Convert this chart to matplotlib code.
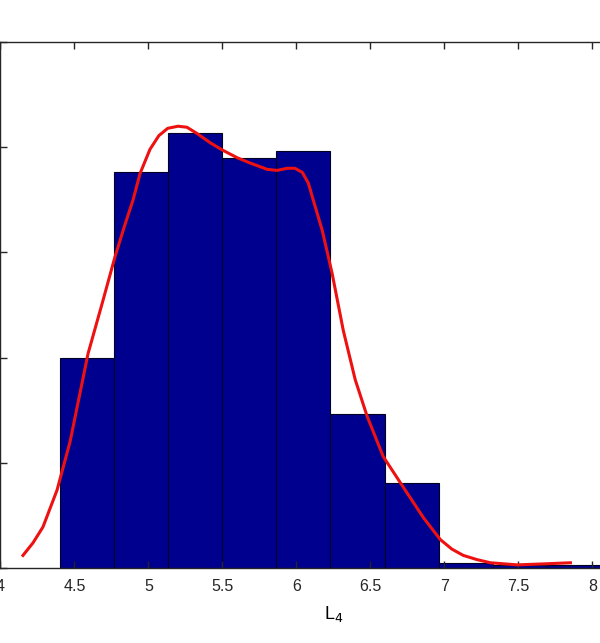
import numpy as np
import matplotlib.pyplot as plt

plt.rcParams['font.family'] = ['Liberation Sans', 'DejaVu Sans']

# histogram: left bin edge, bin width and bar heights
bin_start = 4.402
bin_width = 0.3655
bar_heights = [0.200, 0.376, 0.414, 0.390, 0.396, 0.146, 0.081, 0.005, 0.003, 0.003]

# fitted density curve
curve_x = [4.152, 4.220, 4.287, 4.382, 4.470, 4.592, 4.690, 4.774, 4.840, 4.896,
           4.943, 5.010, 5.070, 5.130, 5.200, 5.260, 5.329, 5.420, 5.504, 5.600,
           5.687, 5.802, 5.870, 5.937, 5.990, 6.040, 6.080, 6.113, 6.174, 6.241,
           6.316, 6.397, 6.478, 6.586, 6.721, 6.857, 6.972, 7.050, 7.127, 7.220,
           7.310, 7.492, 7.682, 7.851]
curve_y = [0.012, 0.024, 0.039, 0.074, 0.120, 0.204, 0.253, 0.296, 0.326, 0.350,
           0.375, 0.398, 0.411, 0.418, 0.420, 0.419, 0.413, 0.404, 0.397, 0.390,
           0.385, 0.379, 0.378, 0.380, 0.380, 0.376, 0.366, 0.350, 0.321, 0.280,
           0.226, 0.179, 0.144, 0.106, 0.077, 0.048, 0.027, 0.018, 0.012, 0.008,
           0.005, 0.003, 0.004, 0.005]

xticks = [4, 4.5, 5, 5.5, 6, 6.5, 7, 7.5, 8, 8.5]
xticklabels = ['4', '4.5', '5', '5.5', '6', '6.5', '7', '7.5', '8', '8.5']
yticks = [0, 0.1, 0.2, 0.3, 0.4, 0.5]

fig = plt.figure(figsize=(6, 6.43), dpi=100)
ax = fig.add_axes([0.0008, 0.1166, 1.11, 0.818])

lefts = bin_start + bin_width * np.arange(len(bar_heights))
ax.bar(lefts, bar_heights, width=bin_width, align='edge',
       color='#00008F', edgecolor='#000022', linewidth=0.8)
ax.plot(curve_x, curve_y, color='#EE1111', linewidth=2.2,
        solid_joinstyle='round')

ax.set_xlim(4, 8.5)
ax.set_ylim(0, 0.5)
ax.set_xticks(xticks)
ax.set_xticklabels(xticklabels)
ax.set_yticks(yticks)
ax.tick_params(direction='in', length=5, width=1, colors='#262626',
               labelsize=11.5, top=True, labelleft=False, pad=8)
for s in ax.spines.values():
    s.set_color('#262626')
    s.set_linewidth(1)
ax.set_xlabel('L$_4$', fontsize=13, labelpad=7)

fig.savefig('out.png', dpi=100)
